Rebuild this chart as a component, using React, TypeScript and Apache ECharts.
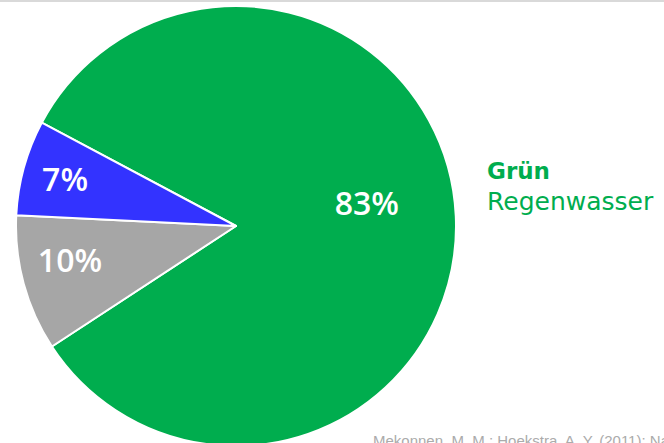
import React, { useEffect, useRef } from "react";
import * as echarts from "echarts";

const categories = ["Grün", "Grau", "Blau"];
const values = [83, 10, 7];
const sliceColors = ["#00AD4E", "#A6A6A6", "#3333FF"];
const labelOffsets = [
  [18, -18],
  [-57, 4],
  [-62, -17],
];
const annotationTitle = "Grün";
const annotationSub = "Regenwasser";
const sourceNote = "Mekonnen, M. M.; Hoekstra, A. Y. (2011): National water footprint accounts";

export default function App() {
  const ref = useRef<HTMLDivElement>(null);
  useEffect(() => {
    document.body.style.margin = "0";
    if (!ref.current) return;
    const chart = echarts.init(ref.current, null, { renderer: "svg" });
    chart.setOption({
      animation: false,
      backgroundColor: "#ffffff",
      series: [
        {
          type: "pie",
          center: [236, 226],
          radius: [0, 220],
          startAngle: 152,
          clockwise: true,
          silent: true,
          itemStyle: { borderColor: "#ffffff", borderWidth: 2 },
          label: {
            show: true,
            position: "inside",
            formatter: "{c}%",
            color: "#ffffff",
            fontSize: 32,
            fontWeight: 600,
            fontFamily: "Open Sans",
          },
          labelLine: { show: false },
          labelLayout: (p: any) => ({
            dx: labelOffsets[p.dataIndex][0],
            dy: labelOffsets[p.dataIndex][1],
          }),
          data: categories.map((name, i) => ({
            name,
            value: values[i],
            itemStyle: { color: sliceColors[i] },
          })),
        },
      ],
      graphic: [
        {
          type: "rect",
          shape: { x: 0, y: 0, width: 664, height: 2 },
          style: { fill: "#d9d9d9" },
          silent: true,
        },
        {
          type: "text",
          x: 487,
          y: 170.5,
          style: {
            text: annotationTitle,
            fill: "#00AD4E",
            font: "bold 23px 'DejaVu Sans'",
            textVerticalAlign: "middle",
          },
        },
        {
          type: "text",
          x: 487,
          y: 201.5,
          style: {
            text: annotationSub,
            fill: "#00AD4E",
            font: "25px 'DejaVu Sans'",
            textVerticalAlign: "middle",
          },
        },
        {
          type: "text",
          x: 373,
          y: 433,
          style: {
            text: sourceNote,
            fill: "#ababab",
            font: "15px 'Liberation Sans'",
            textVerticalAlign: "top",
          },
        },
      ],
    });
    return () => chart.dispose();
  }, []);
  return <div ref={ref} style={{ width: 664, height: 443 }} />;
}
